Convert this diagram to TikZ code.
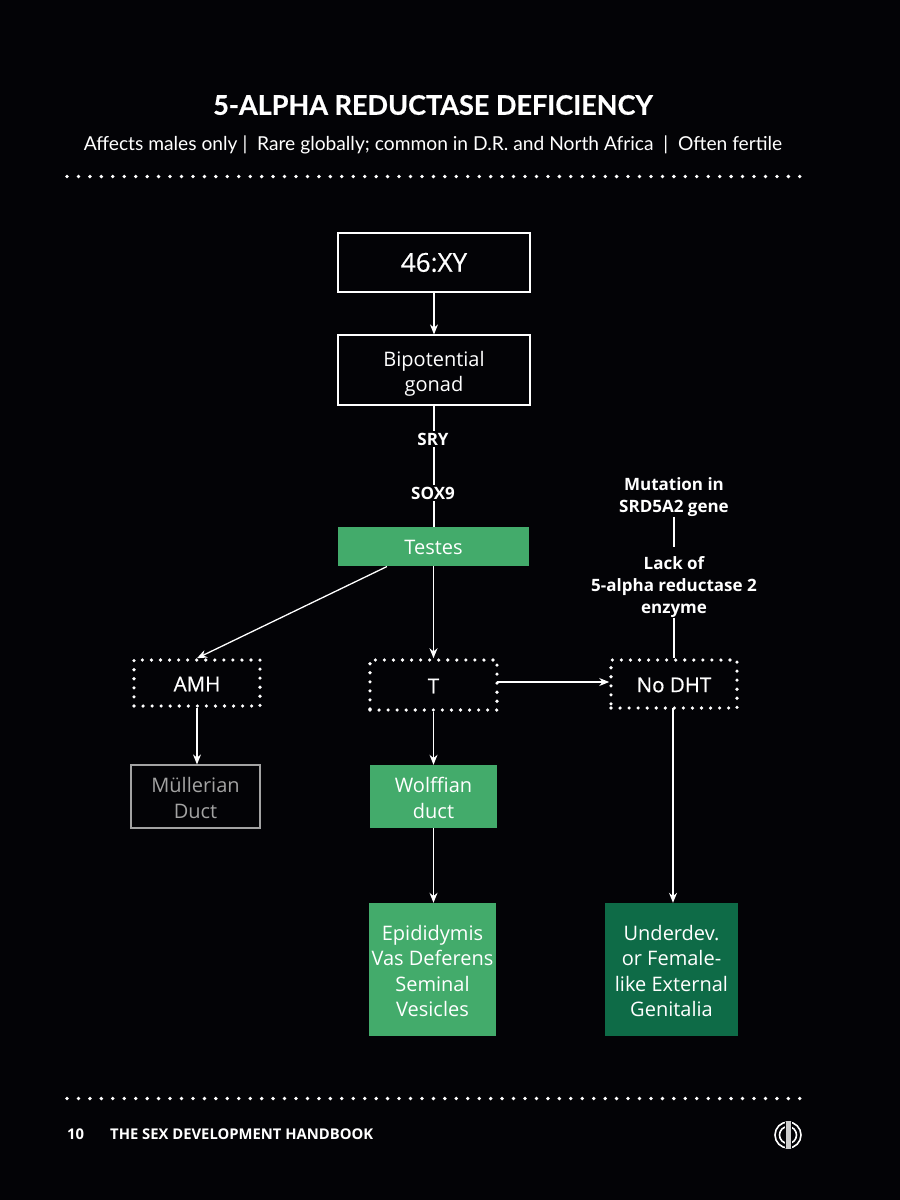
\documentclass[tikz,border=0pt]{standalone}
\usepackage{fontspec}
\setmainfont{Open Sans}
\newfontfamily\titlefont{Lato}
\newfontfamily\medfont[FakeBold=0.5]{Open Sans}
\newfontfamily\titlefat[BoldFeatures={FakeBold=0.6}]{Lato}
\usetikzlibrary{arrows.meta}
\definecolor{bg}{HTML}{030306}
\definecolor{gA}{HTML}{43AB6B}
\definecolor{gB}{HTML}{0E6B47}
\definecolor{mut}{HTML}{A3A3A3}
\newcommand{\dropS}{\rule{0pt}{16.5pt}}
\newcommand{\dropA}{\rule{0pt}{18.5pt}}
\newcommand{\dropB}{\rule{0pt}{22.5pt}}
\tikzset{
 px/.style={x=1pt,y=-1pt},
 body/.style={align=center,inner sep=0pt,font=\fontsize{20}{25.5}\selectfont},
 solidbox/.style={body,draw=white,line width=1.2pt,fill=bg,text=white},
 dotbox/.style={body,draw=white,line width=3.6pt,line cap=round,dash pattern=on 0pt off 9.05pt,text=white,font=\medfont\fontsize{20.5}{25.5}\selectfont},
 greenbox/.style={body,fill=gA,text=white},
 darkbox/.style={body,fill=gB,text=white},
 greybox/.style={body,draw=mut,line width=1.2pt,text=mut},
 lab/.style={fill=bg,text=white,align=center,inner sep=2pt,font=\bfseries\fontsize{17}{22}\selectfont},
 conn/.style={draw=white,line width=1.3pt},
 arr/.style={conn,-{Stealth[length=10pt,width=8pt]}},
 rule/.style={draw=white,line width=3.8pt,line cap=round,dash pattern=on 0pt off 11.45pt},
}
\begin{document}
\begin{tikzpicture}[px]
\path[use as bounding box,fill=bg] (0,0) rectangle (900,1200);
\node[text=white,font=\titlefat\bfseries\fontsize{27}{30}\selectfont] (title) at (433,105) {5-ALPHA REDUCTASE DEFICIENCY};
\node[text=white,font=\titlefont\fontsize{19.2}{22}\selectfont] (sub) at (433,144.5) {Affects males only |\ \ Rare globally; common in D.R. and North Africa\ \ |\ \ Often fertile};
\coordinate (r1a) at (67,176.5); \coordinate (r1b) at (802,176.5);
\coordinate (r2a) at (67,1098.5); \coordinate (r2b) at (802,1098.5);
\draw[rule] (r1a) -- (r1b);
\draw[rule] (r2a) -- (r2b);
\node[solidbox,minimum width=192pt,minimum height=59pt,font=\medfont\fontsize{26}{30}\selectfont] (xy) at (434,262.5) {46:XY};
\node[solidbox,minimum width=192pt,minimum height=70pt] (gonad) at (434,370) {\dropB Bipotential\\gonad};
\node[greenbox,minimum width=191pt,minimum height=39pt] (testes) at (433.5,546.5) {\dropS Testes};
\node[dotbox,minimum width=126pt,minimum height=46pt] (amh) at (197,683) {\dropS AMH};
\node[dotbox,minimum width=127pt,minimum height=50pt] (t) at (433.5,685) {\dropS T};
\node[dotbox,minimum width=126pt,minimum height=48pt] (nodht) at (674,684) {\dropS No DHT};
\node[greybox,minimum width=129pt,minimum height=63pt] (mull) at (195.5,796.5) {\dropA Müllerian\\Duct};
\node[greenbox,minimum width=127pt,minimum height=63pt] (wolf) at (433.5,796.5) {\dropA Wolffian\\duct};
\node[greenbox,minimum width=127pt,minimum height=133pt] (epi) at (432.5,969.5) {\dropA Epididymis\\Vas Deferens\\Seminal\\Vesicles};
\node[darkbox,minimum width=133pt,minimum height=133pt] (under) at (671.5,969.5) {\dropA Underdev.\\or Female-\\like External\\Genitalia};
\coordinate (tfoot) at (387,566.5);
\coordinate (tout) at (497,682);
\coordinate (dhtfoot) at (673,708);
\draw[arr] (xy.south) -- (gonad.north);
\draw[conn] (gonad.south) -- (testes.north -| gonad.south);
\node[lab] (sry) at (433,439) {SRY};
\node[lab] (sox) at (433,493) {SOX9};
\draw[arr] (tfoot) -- (amh.north);
\draw[arr] (testes.south) -- (t.north);
\draw[arr] (tout) -- (tout -| nodht.west);
\draw[arr] (amh.south) -- (amh.south |- mull.north);
\draw[arr] (t.south) -- (wolf.north);
\draw[arr] (wolf.south) -- (wolf.south |- epi.north);
\draw[arr] (dhtfoot) -- (dhtfoot |- under.north);
\node[lab,inner sep=0pt] (mutation) at (674,497) {Mutation in\\SRD5A2 gene};
\node[lab,inner sep=0pt] (lack) at (674,587) {Lack of\\5-alpha reductase 2\\enzyme};
\draw[conn,shorten >=9pt] (mutation.south) -- (lack.north);
\draw[conn] (lack.south) -- (nodht.north);
\node[text=white,anchor=west,inner sep=0pt,font=\bfseries\fontsize{14.8}{16}\selectfont] (page) at (67,1134.5) {10};
\node[text=white,anchor=west,inner sep=0pt,font=\bfseries\fontsize{14.8}{16}\selectfont] (hb) at (110,1134.5) {THE SEX DEVELOPMENT HANDBOOK};
\draw[white,line width=1.6pt] (788,1135) circle (13);
\draw[white,line width=1.6pt] (788,1135) circle (8.5);
\fill[white!80!black] (785.5,1121) rectangle (790.5,1149);
\draw[bg,line width=.8pt] (785,1122) -- (785,1148) (791,1122) -- (791,1148);
\end{tikzpicture}
\end{document}
